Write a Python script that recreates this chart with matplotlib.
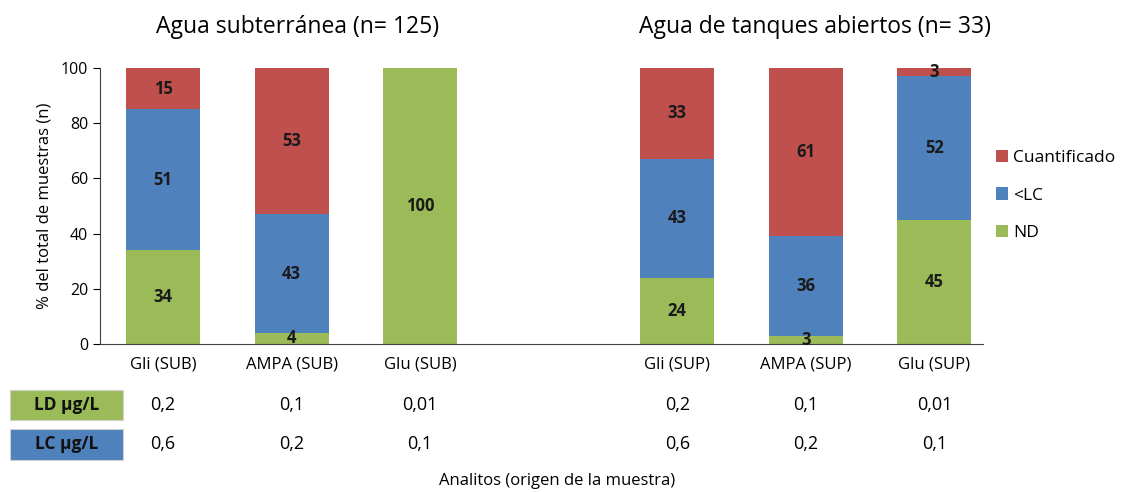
import matplotlib
matplotlib.use("Agg")
import matplotlib.pyplot as plt
import matplotlib.transforms as mtransforms
from matplotlib.patches import Rectangle
import numpy as np

plt.rcParams['font.family'] = ['Open Sans', 'DejaVu Sans']

categories = ["Gli (SUB)", "AMPA (SUB)", "Glu (SUB)", "Gli (SUP)", "AMPA (SUP)", "Glu (SUP)"]
positions = [0, 1, 2, 4, 5, 6]
nd = [34, 4, 100, 24, 3, 45]
lc = [51, 43, 0, 43, 36, 52]
cuant = [15, 53, 0, 33, 61, 3]
ld_vals = ["0,2", "0,1", "0,01", "0,2", "0,1", "0,01"]
lc_vals = ["0,6", "0,2", "0,1", "0,6", "0,2", "0,1"]
titles = ["Agua subterránea (n= 125)", "Agua de tanques abiertos (n= 33)"]
series_names = ["ND", "<LC", "Cuantificado"]
colors = {"ND": "#9BBB59", "<LC": "#4F81BD", "Cuantificado": "#C0504D"}

fig = plt.figure(figsize=(11.47, 4.92), dpi=100)
ax = fig.add_axes([0.0872, 0.301, 0.7700, 0.561])

x = np.array(positions, dtype=float)
w = 0.575
bottom = np.zeros(len(x))
handles = {}
for name, vals in zip(series_names, [nd, lc, cuant]):
    vals = np.array(vals, dtype=float)
    bars = ax.bar(x, vals, w, bottom=bottom, color=colors[name], label=name,
                  edgecolor='none')
    handles[name] = bars
    for xi, b, v in zip(x, bottom, vals):
        if v > 0:
            ax.text(xi, b + v / 2, f"{int(v)}", ha='center', va='center',
                    fontsize=12, fontweight='bold', color='#1a1a1a')
    bottom += vals

ax.set_xlim(-0.49, 6.38)
ax.set_ylim(0, 100)
ax.set_yticks([0, 20, 40, 60, 80, 100])
ax.tick_params(axis='y', labelsize=11.5, direction='out', length=5, colors='#000000')
ax.set_xticks(x)
ax.set_xticklabels(categories, fontsize=12)
ax.tick_params(axis='x', length=0, pad=9)
ax.spines['top'].set_visible(False)
ax.spines['right'].set_visible(False)
ax.spines['left'].set_color('#404040')
ax.spines['bottom'].set_color('#404040')
ax.set_ylabel("% del total de muestras (n)", fontsize=12, labelpad=6)

# group titles
trans_blend = mtransforms.blended_transform_factory(ax.transData, fig.transFigure)
fig.text(np.mean(positions[:3]) + 0.05, 0.945, titles[0], transform=trans_blend,
         ha='center', va='center', fontsize=16.5)
fig.text(np.mean(positions[3:]) + 0.07, 0.945, titles[1], transform=trans_blend,
         ha='center', va='center', fontsize=16.5)

# legend
leg_handles = [handles["Cuantificado"], handles["<LC"], handles["ND"]]
leg = fig.legend(leg_handles, ["Cuantificado", "<LC", "ND"], loc='upper left',
                 bbox_to_anchor=(0.862, 0.71), frameon=False, fontsize=12.5,
                 handlelength=0.7, handleheight=0.7, handletextpad=0.3,
                 labelspacing=1.25, borderaxespad=0)

# table rows
row_y = [0.177, 0.097]
for xi, a, b in zip(x, ld_vals, lc_vals):
    fig.text(xi, row_y[0], a, transform=trans_blend, ha='center', va='center', fontsize=13)
    fig.text(xi, row_y[1], b, transform=trans_blend, ha='center', va='center', fontsize=13)

box_specs = [("LD \u00b5g/L", colors["ND"], row_y[0]), ("LC \u00b5g/L", colors["<LC"], row_y[1])]
for label, col, yy in box_specs:
    r = Rectangle((0.009, yy - 0.031), 0.098, 0.062, transform=fig.transFigure,
                  facecolor=col, edgecolor='#d0d0d0', linewidth=0.8)
    fig.add_artist(r)
    fig.text(0.058, yy, label, ha='center', va='center', fontsize=12.5,
             fontweight='bold', color='#111111')

fig.text(0.486, 0.022, "Analitos (origen de la muestra)",
         ha='center', va='center', fontsize=12)

fig.savefig("out.png", dpi=100)
